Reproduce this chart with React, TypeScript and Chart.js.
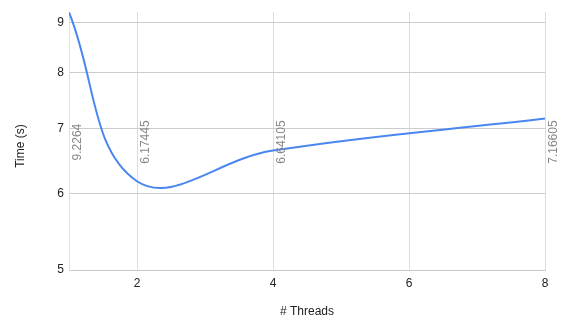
import React, { useEffect, useRef } from "react";
import { Chart, registerables } from "chart.js";

Chart.register(...registerables);

const threads = [1, 2, 4, 8];
const times = [9.2264, 6.17445, 6.64105, 7.16605];
const timeLabels = ["9.2264", "6.17445", "6.64105", "7.16605"];
const xTicks = [2, 4, 6, 8];
const yTicks = [5, 6, 7, 8, 9];

const FONT = "'Liberation Sans', Arial, sans-serif";

export default function App() {
  const ref = useRef<HTMLCanvasElement>(null);

  useEffect(() => {
    document.body.style.margin = "0";
    const canvas = ref.current!;
    const overlay = {
      id: "overlay",
      afterDatasetsDraw(chart: any) {
        const ctx = chart.ctx;
        const area = chart.chartArea;
        const xs = chart.scales.x;
        ctx.save();
        ctx.font = `12px ${FONT}`;
        ctx.fillStyle = "#888";
        ctx.textAlign = "center";
        ctx.textBaseline = "middle";
        const midY = (area.top + area.bottom) / 2 + 1;
        threads.forEach((t, i) => {
          const px = xs.getPixelForValue(t) + 9;
          ctx.save();
          ctx.translate(px, midY);
          ctx.rotate(-Math.PI / 2);
          ctx.fillText(timeLabels[i], 0, 0);
          ctx.restore();
        });
        ctx.fillStyle = "#222";
        ctx.font = `12px ${FONT}`;
        ctx.fillText("# Threads", (area.left + area.right) / 2, 312);
        ctx.save();
        ctx.translate(21, 146);
        ctx.rotate(-Math.PI / 2);
        ctx.fillText("Time (s)", 0, 0);
        ctx.restore();
        ctx.restore();
      },
    };

    const chart = new Chart(canvas, {
      type: "line",
      data: {
        datasets: [
          {
            data: threads.map((t, i) => ({ x: t, y: times[i] })),
            borderColor: "#4a86f0",
            borderWidth: 2,
            pointRadius: 0,
            tension: 0.4,
            fill: false,
          },
        ],
      },
      options: {
        animation: false,
        responsive: false,
        devicePixelRatio: 1,
        layout: { padding: { top: 10, right: 16, left: 0, bottom: 0 } },
        plugins: { legend: { display: false }, tooltip: { enabled: false } },
        scales: {
          x: {
            type: "linear",
            min: 1,
            max: 8,
            afterBuildTicks: (s: any) => {
              s.ticks = xTicks.map((v) => ({ value: v }));
            },
            afterFit: (s: any) => {
              s.height = 52;
            },
            grid: { color: "#dcdcdc", drawTicks: false },
            border: { display: true, color: "#c8c8c8" },
            ticks: {
              padding: 6,
              color: "#222",
              font: { family: FONT, size: 12 },
              maxRotation: 0,
            },
          },
          y: {
            type: "logarithmic",
            min: 5,
            max: 9.2264,
            afterBuildTicks: (s: any) => {
              s.ticks = yTicks.map((v) => ({ value: v }));
            },
            afterFit: (s: any) => {
              s.width = 69;
            },
            grid: { color: "#cccccc", drawTicks: false },
            border: { display: true, color: "#e0e0e0" },
            ticks: {
              padding: 5,
              color: "#222",
              font: { family: FONT, size: 12 },
              callback: (v: any) => String(v),
            },
          },
        },
      },
      plugins: [overlay],
    });
    return () => chart.destroy();
  }, []);

  return (
    <div style={{ position: "absolute", left: 0, top: 0, width: 561, height: 322, background: "#fff" }}>
      <canvas ref={ref} width={561} height={322} style={{ width: 561, height: 322 }} />
    </div>
  );
}
